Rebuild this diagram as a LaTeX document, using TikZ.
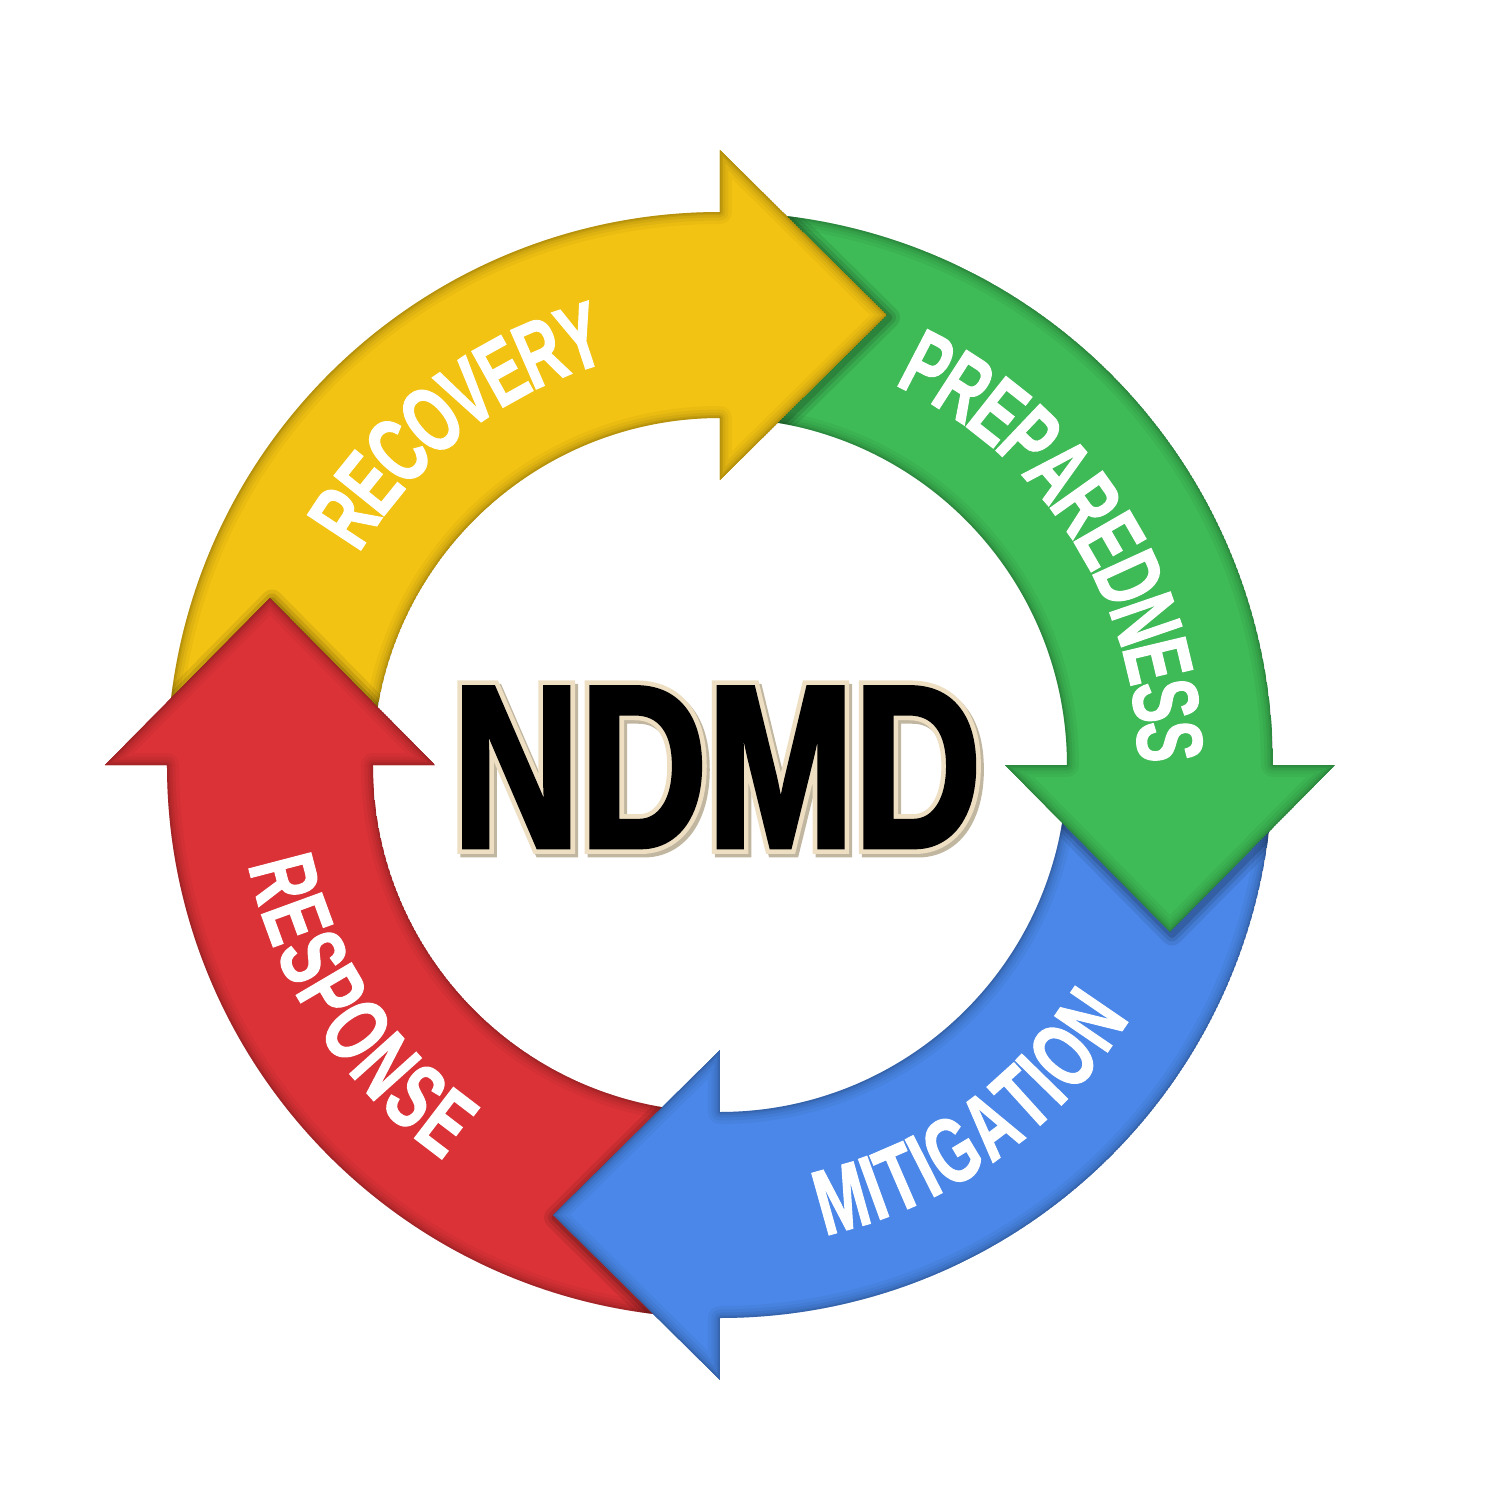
\documentclass[tikz,border=0pt]{standalone}
\usepackage{fontspec}
\usetikzlibrary{calc,decorations.text}
\newfontfamily\labelfont[FakeStretch=0.66,FakeBold=1.2]{Liberation Sans}
\newfontfamily\ndmdfont[FakeStretch=0.76,FakeBold=2]{Liberation Sans}
\newfontfamily\ndmdrim[FakeStretch=0.76,FakeBold=6]{Liberation Sans}
\newcommand\lblf{\labelfont\bfseries\fontsize{26.5}{30}\selectfont}
\definecolor{cyel}{HTML}{F3C313}
\definecolor{cgrn}{HTML}{3EBA56}
\definecolor{cblu}{HTML}{4A87E8}
\definecolor{cred}{HTML}{DA3236}
\definecolor{cbeige}{HTML}{EEDFC3}
\definecolor{ctan}{HTML}{A89878}
% full arrow outline: #1 start angle, #2 angle of the head's back edge (clockwise)
\newcommand\arrowpath[2]{(#1:5.53) arc[start angle=#1, end angle=#2, radius=5.53] -- (#2:6.15) -- ($(#2:4.5)+(#2-90:1.67)$) -- (#2:2.85) -- (#2:3.47) arc[start angle=#2, end angle=#1, radius=3.47] -- cycle}
\newcommand\headpath[1]{(#1:2.85) -- (#1:6.15) -- ($(#1:4.5)+(#1-90:1.67)$) -- cycle}
% filled arrow with an inner darker rim
\newcommand\arrowbody[3]{%
  \begin{scope}
    \clip \arrowpath{#1}{#2};
    \fill[#3] \arrowpath{#1}{#2};
    \foreach \lw/\op in {0.24/0.035,0.17/0.045,0.11/0.055,0.06/0.065,0.03/0.075}
      \draw[black,opacity=\op,line width=\lw cm,line join=round] \arrowpath{#1}{#2};
  \end{scope}}
% head redrawn on top of the next arrow's tail
\newcommand\arrowhead[3]{%
  \begin{scope}
    \clip \headpath{#2};
    \fill[#3] \arrowpath{#1}{#2};
    \foreach \lw/\op in {0.24/0.035,0.17/0.045,0.11/0.055,0.06/0.065,0.03/0.075}
      \draw[black,opacity=\op,line width=\lw cm,line join=round] \arrowpath{#1}{#2};
  \end{scope}}
% shadow of a head cast onto the next arrow
\newcommand\headshadow[3]{%
  \begin{scope}
    \clip \arrowpath{#2}{#3};
    \foreach \lw/\op in {0.22/0.08,0.14/0.10,0.07/0.14}
      \draw[black,opacity=\op,line width=\lw cm,line join=round,shift={(0.02,-0.025)}] \headpath{#1};
  \end{scope}}
\tikzset{
  lbl/.style={decorate,decoration={text along path,text={|\lblf|#1},text align=center,text color=white,raise=-0.32cm}},
  ndmdtxt/.style={inner sep=0pt,anchor=base,font=\ndmdfont\bfseries\fontsize{66}{70}\selectfont},
  ndmdout/.style={inner sep=0pt,anchor=base,font=\ndmdrim\bfseries\fontsize{66}{70}\selectfont}
}
\begin{document}
\begin{tikzpicture}
\fill[white] (-7.2,-7.35) rectangle (7.8,7.65);
\useasboundingbox (-7.2,-7.35) rectangle (7.8,7.65);
% arrow bodies
\arrowbody{175}{90}{cyel}
\arrowbody{85}{0}{cgrn}
\arrowbody{-5}{-90}{cblu}
\arrowbody{-95}{-180}{cred}
% head shadows on the following arrow
\headshadow{90}{85}{0}
\headshadow{0}{-5}{-90}
\headshadow{-90}{-95}{-180}
\headshadow{-180}{175}{90}
% heads on top
\arrowhead{175}{90}{cyel}
\arrowhead{85}{0}{cgrn}
\arrowhead{-5}{-90}{cblu}
\arrowhead{-95}{-180}{cred}
% labels
\path[lbl=RECOVERY] (170:4.5) arc[start angle=170, end angle=85, radius=4.5];
\path[lbl=PREPAREDNESS] (77.8:4.5) arc[start angle=77.8, end angle=-12.2, radius=4.5];
\path[lbl=MITIGATION] (260:4.5) arc[start angle=260, end angle=350.8, radius=4.5];
\path[lbl=RESPONSE] (170:4.5) arc[start angle=170, end angle=257, radius=4.5];
% centre title: tan shadow, beige rim, black letters
\node[ndmdout,text=ctan,opacity=0.7] (ndmdshadow) at (0.0,-0.855) {NDMD};
\node[ndmdout,text=cbeige] (ndmdrim) at (-0.03,-0.82) {NDMD};
\node[ndmdtxt,text=black] (ndmd) at (-0.03,-0.82) {NDMD};
\end{tikzpicture}
\end{document}
